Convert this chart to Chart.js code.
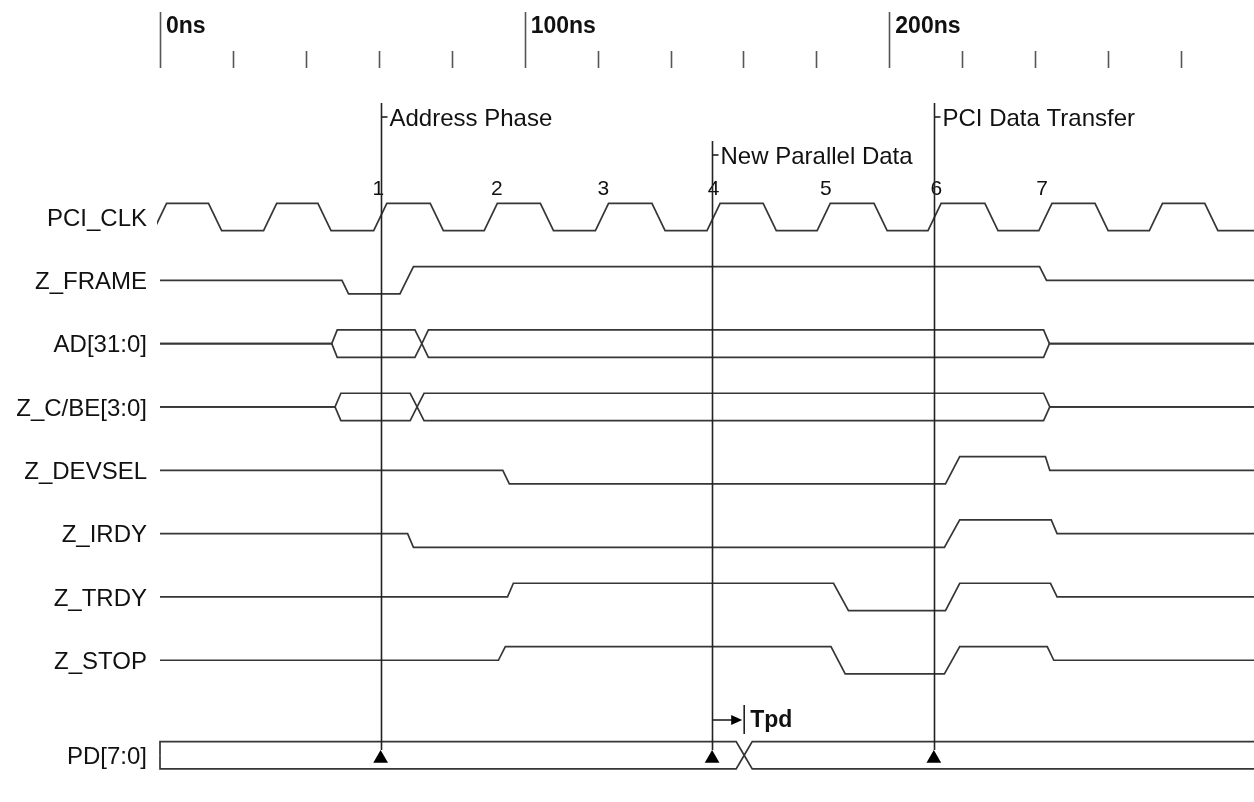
<!DOCTYPE html>
<html>
<head>
<meta charset="utf-8">
<script src="https://cdn.jsdelivr.net/npm/chart.js@4.4.1/dist/chart.umd.min.js"></script>
<style>
    html, body { margin: 0; padding: 0; background: #fff; }
    #wrap { width: 1254px; height: 802px; position: relative; }
</style>
</head>
<body>
<div id="wrap"><canvas id="timing"></canvas></div>
<script>
// ==================== DATA ====================
const signalNames = ['PCI_CLK', 'Z_FRAME', 'AD[31:0]', 'Z_C/BE[3:0]', 'Z_DEVSEL', 'Z_IRDY', 'Z_TRDY', 'Z_STOP', 'PD[7:0]'];
const signalRows  = [0, 1, 2, 3, 4, 5, 6, 7, 8.5];

// time axis (ns)
const majorTicks = [0, 100, 200];
const majorTickLabels = ['0ns', '100ns', '200ns'];
const minorTicks = [20, 40, 60, 80, 120, 140, 160, 180, 220, 240, 260, 280];

// clock edges (ns, centre of edge)
const clkRise = [0, 30.2, 60.4, 90.7, 121.2, 151.8, 182.0, 212.4, 242.8, 273.1];
const clkFall = [15.1, 45.1, 75.9, 106.1, 136.7, 167.2, 197.6, 228.0, 258.2, 288.3];
const clkNumbers = ['1', '2', '3', '4', '5', '6', '7'];
const clkNumberT = [59.9, 92.4, 121.6, 151.8, 182.6, 212.9, 241.9];

// single lines: level 1 = high, 0 = low, 0.5 = tri-state
const frameT  = [0, 49.9, 51.7, 65.8, 69.5, 241.2, 243.1, 300];
const frameV  = [0.5, 0.5, 0, 0, 1, 1, 0.5, 0.5];
const devselT = [0, 94.0, 95.8, 215.4, 219.3, 242.8, 244.0, 300];
const devselV = [0.5, 0.5, 0, 0, 1, 1, 0.5, 0.5];
const irdyT   = [0, 67.9, 69.5, 215.1, 219.3, 244.4, 246.0, 300];
const irdyV   = [0.5, 0.5, 0, 0, 1, 1, 0.5, 0.5];
const trdyT   = [0, 95.3, 96.9, 184.7, 188.8, 215.4, 219.3, 244.2, 246.0, 300];
const trdyV   = [0.5, 0.5, 1, 1, 0, 0, 1, 1, 0.5, 0.5];
const stopT   = [0, 92.8, 94.7, 184.0, 187.9, 215.1, 219.3, 243.3, 245.1, 300];
const stopV   = [0.5, 0.5, 1, 1, 0, 0, 1, 1, 0.5, 0.5];

// buses: 1 = bus driven (open), 0 = closed / crossing
const adT    = [0, 47.1, 48.6, 69.9, 71.8, 73.6, 242.3, 243.9, 300];
const adOpen = [0, 0, 1, 1, 0, 1, 1, 0, 0];
const cbeT    = [0, 48.0, 49.6, 68.6, 70.5, 72.4, 242.3, 244.0, 300];
const cbeOpen = [0, 0, 1, 1, 0, 1, 1, 0, 0];
const pdT    = [0, 0, 158.0, 160.2, 162.4, 300];
const pdOpen = [0, 1, 1, 0, 1, 1];

// markers
const markerT = [60.5, 151.4, 212.2];
const markerLabels = ['Address Phase', 'New Parallel Data', 'PCI Data Transfer'];
const tpdFrom = 151.4;
const tpdTo = 160.2;
const tpdLabel = 'Tpd';

// ==================== BUILD ====================
const AMP = 0.216;          // half signal height in row units
const EDGE = 1.8;           // half clock edge (ns)
const LINE = '#363636';
const FONT = '"Liberation Sans", Arial, sans-serif';

function levelY(row, v) {
    return row + (0.5 - v) * 2 * AMP;
}

function wave(row, ts, vs) {
    return ts.map((t, i) => ({ x: t, y: levelY(row, vs[i]) }));
}

function clockPoints(row) {
    const pts = [];
    const edges = [];
    clkRise.forEach(t => edges.push({ t: t, to: 1 }));
    clkFall.forEach(t => edges.push({ t: t, to: 0 }));
    edges.sort((a, b) => a.t - b.t);
    edges.forEach(e => {
        pts.push({ x: e.t - EDGE, y: levelY(row, 1 - e.to) });
        pts.push({ x: e.t + EDGE, y: levelY(row, e.to) });
    });
    pts.push({ x: 300, y: levelY(row, 0) });
    return pts;
}

function busPoints(row, ts, open, side) {
    return ts.map((t, i) => ({ x: t, y: levelY(row, 0.5 + side * open[i] * 0.5) }));
}

function lineDs(data) {
    return {
        data: data,
        borderColor: LINE,
        borderWidth: 1.7,
        pointRadius: 0,
        tension: 0,
        fill: false,
        clip: 3
    };
}

const datasets = [
    lineDs(clockPoints(signalRows[0])),
    lineDs(wave(signalRows[1], frameT, frameV)),
    lineDs(busPoints(signalRows[2], adT, adOpen, 1)),
    lineDs(busPoints(signalRows[2], adT, adOpen, -1)),
    lineDs(busPoints(signalRows[3], cbeT, cbeOpen, 1)),
    lineDs(busPoints(signalRows[3], cbeT, cbeOpen, -1)),
    lineDs(wave(signalRows[4], devselT, devselV)),
    lineDs(wave(signalRows[5], irdyT, irdyV)),
    lineDs(wave(signalRows[6], trdyT, trdyV)),
    lineDs(wave(signalRows[7], stopT, stopV)),
    lineDs(busPoints(signalRows[8], pdT, pdOpen, 1)),
    lineDs(busPoints(signalRows[8], pdT, pdOpen, -1)),
    {
        type: 'scatter',
        data: markerT.map(t => ({ x: t, y: signalRows[8] + 0.05 })),
        pointStyle: 'triangle',
        pointRadius: 8.5,
        backgroundColor: '#000',
        borderColor: '#000',
        borderWidth: 0,
        showLine: false,
        clip: false
    }
];

// ==================== DECORATION PLUGIN ====================
const timingDecor = {
    id: 'timingDecor',
    afterDatasetsDraw(chart) {
        const { ctx, scales } = chart;
        const xs = scales.x, ys = scales.y;
        ctx.save();

        // time axis
        ctx.strokeStyle = '#555';
        ctx.lineWidth = 1.6;
        majorTicks.forEach(t => {
            const x = Math.round(xs.getPixelForValue(t)) + 0.5;
            ctx.beginPath(); ctx.moveTo(x, 12); ctx.lineTo(x, 68); ctx.stroke();
        });
        minorTicks.forEach(t => {
            const x = Math.round(xs.getPixelForValue(t)) + 0.5;
            ctx.beginPath(); ctx.moveTo(x, 51); ctx.lineTo(x, 68); ctx.stroke();
        });
        ctx.fillStyle = '#111';
        ctx.font = 'bold 23px ' + FONT;
        ctx.textAlign = 'left';
        ctx.textBaseline = 'middle';
        majorTickLabels.forEach((lbl, i) => {
            ctx.fillText(lbl, xs.getPixelForValue(majorTicks[i]) + 6, 27);
        });

        // signal names
        ctx.font = '24px ' + FONT;
        ctx.textAlign = 'right';
        signalNames.forEach((name, i) => {
            ctx.fillText(name, 147, ys.getPixelForValue(signalRows[i]) + 2);
        });

        // clock numbers
        ctx.font = '21px ' + FONT;
        ctx.textAlign = 'center';
        clkNumbers.forEach((n, i) => {
            ctx.fillText(n, xs.getPixelForValue(clkNumberT[i]), 189);
        });

        // marker lines + labels
        const tops = [103, 141, 103];
        const labY = [117, 155, 117];
        const tipY = ys.getPixelForValue(signalRows[8] + 0.05) - 8.5;
        ctx.strokeStyle = '#222';
        ctx.lineWidth = 1.6;
        ctx.font = '24px ' + FONT;
        ctx.textAlign = 'left';
        markerT.forEach((t, i) => {
            const x = Math.round(xs.getPixelForValue(t)) + 0.5;
            ctx.beginPath(); ctx.moveTo(x, tops[i]); ctx.lineTo(x, tipY); ctx.stroke();
            ctx.beginPath(); ctx.moveTo(x, labY[i]); ctx.lineTo(x + 6, labY[i]); ctx.stroke();
            ctx.fillText(markerLabels[i], x + 8, labY[i] + 2);
        });

        // Tpd arrow
        const ax0 = xs.getPixelForValue(tpdFrom);
        const ax1 = xs.getPixelForValue(tpdTo);
        const ay = 720;
        ctx.beginPath(); ctx.moveTo(ax0, ay); ctx.lineTo(ax1 - 12, ay); ctx.stroke();
        ctx.fillStyle = '#000';
        ctx.beginPath();
        ctx.moveTo(ax1 - 2, ay); ctx.lineTo(ax1 - 13, ay - 5); ctx.lineTo(ax1 - 13, ay + 5);
        ctx.closePath(); ctx.fill();
        ctx.beginPath(); ctx.moveTo(ax1, ay - 15); ctx.lineTo(ax1, ay + 14); ctx.stroke();
        ctx.fillStyle = '#111';
        ctx.font = 'bold 23px ' + FONT;
        ctx.fillText(tpdLabel, ax1 + 6, ay + 1);

        ctx.restore();
    }
};

new Chart(document.getElementById('timing'), {
    type: 'line',
    data: { datasets: datasets },
    options: {
        responsive: true,
        maintainAspectRatio: false,
        animation: false,
        layout: { autoPadding: false, padding: { left: 160, right: 0, top: 0, bottom: 0 } },
        plugins: { legend: { display: false }, tooltip: { enabled: false } },
        scales: {
            x: { type: 'linear', min: 0, max: 300, display: false },
            y: { type: 'linear', min: -3.426, max: 9.238, reverse: true, display: false }
        }
    },
    plugins: [timingDecor]
});
</script>
</body>
</html>
